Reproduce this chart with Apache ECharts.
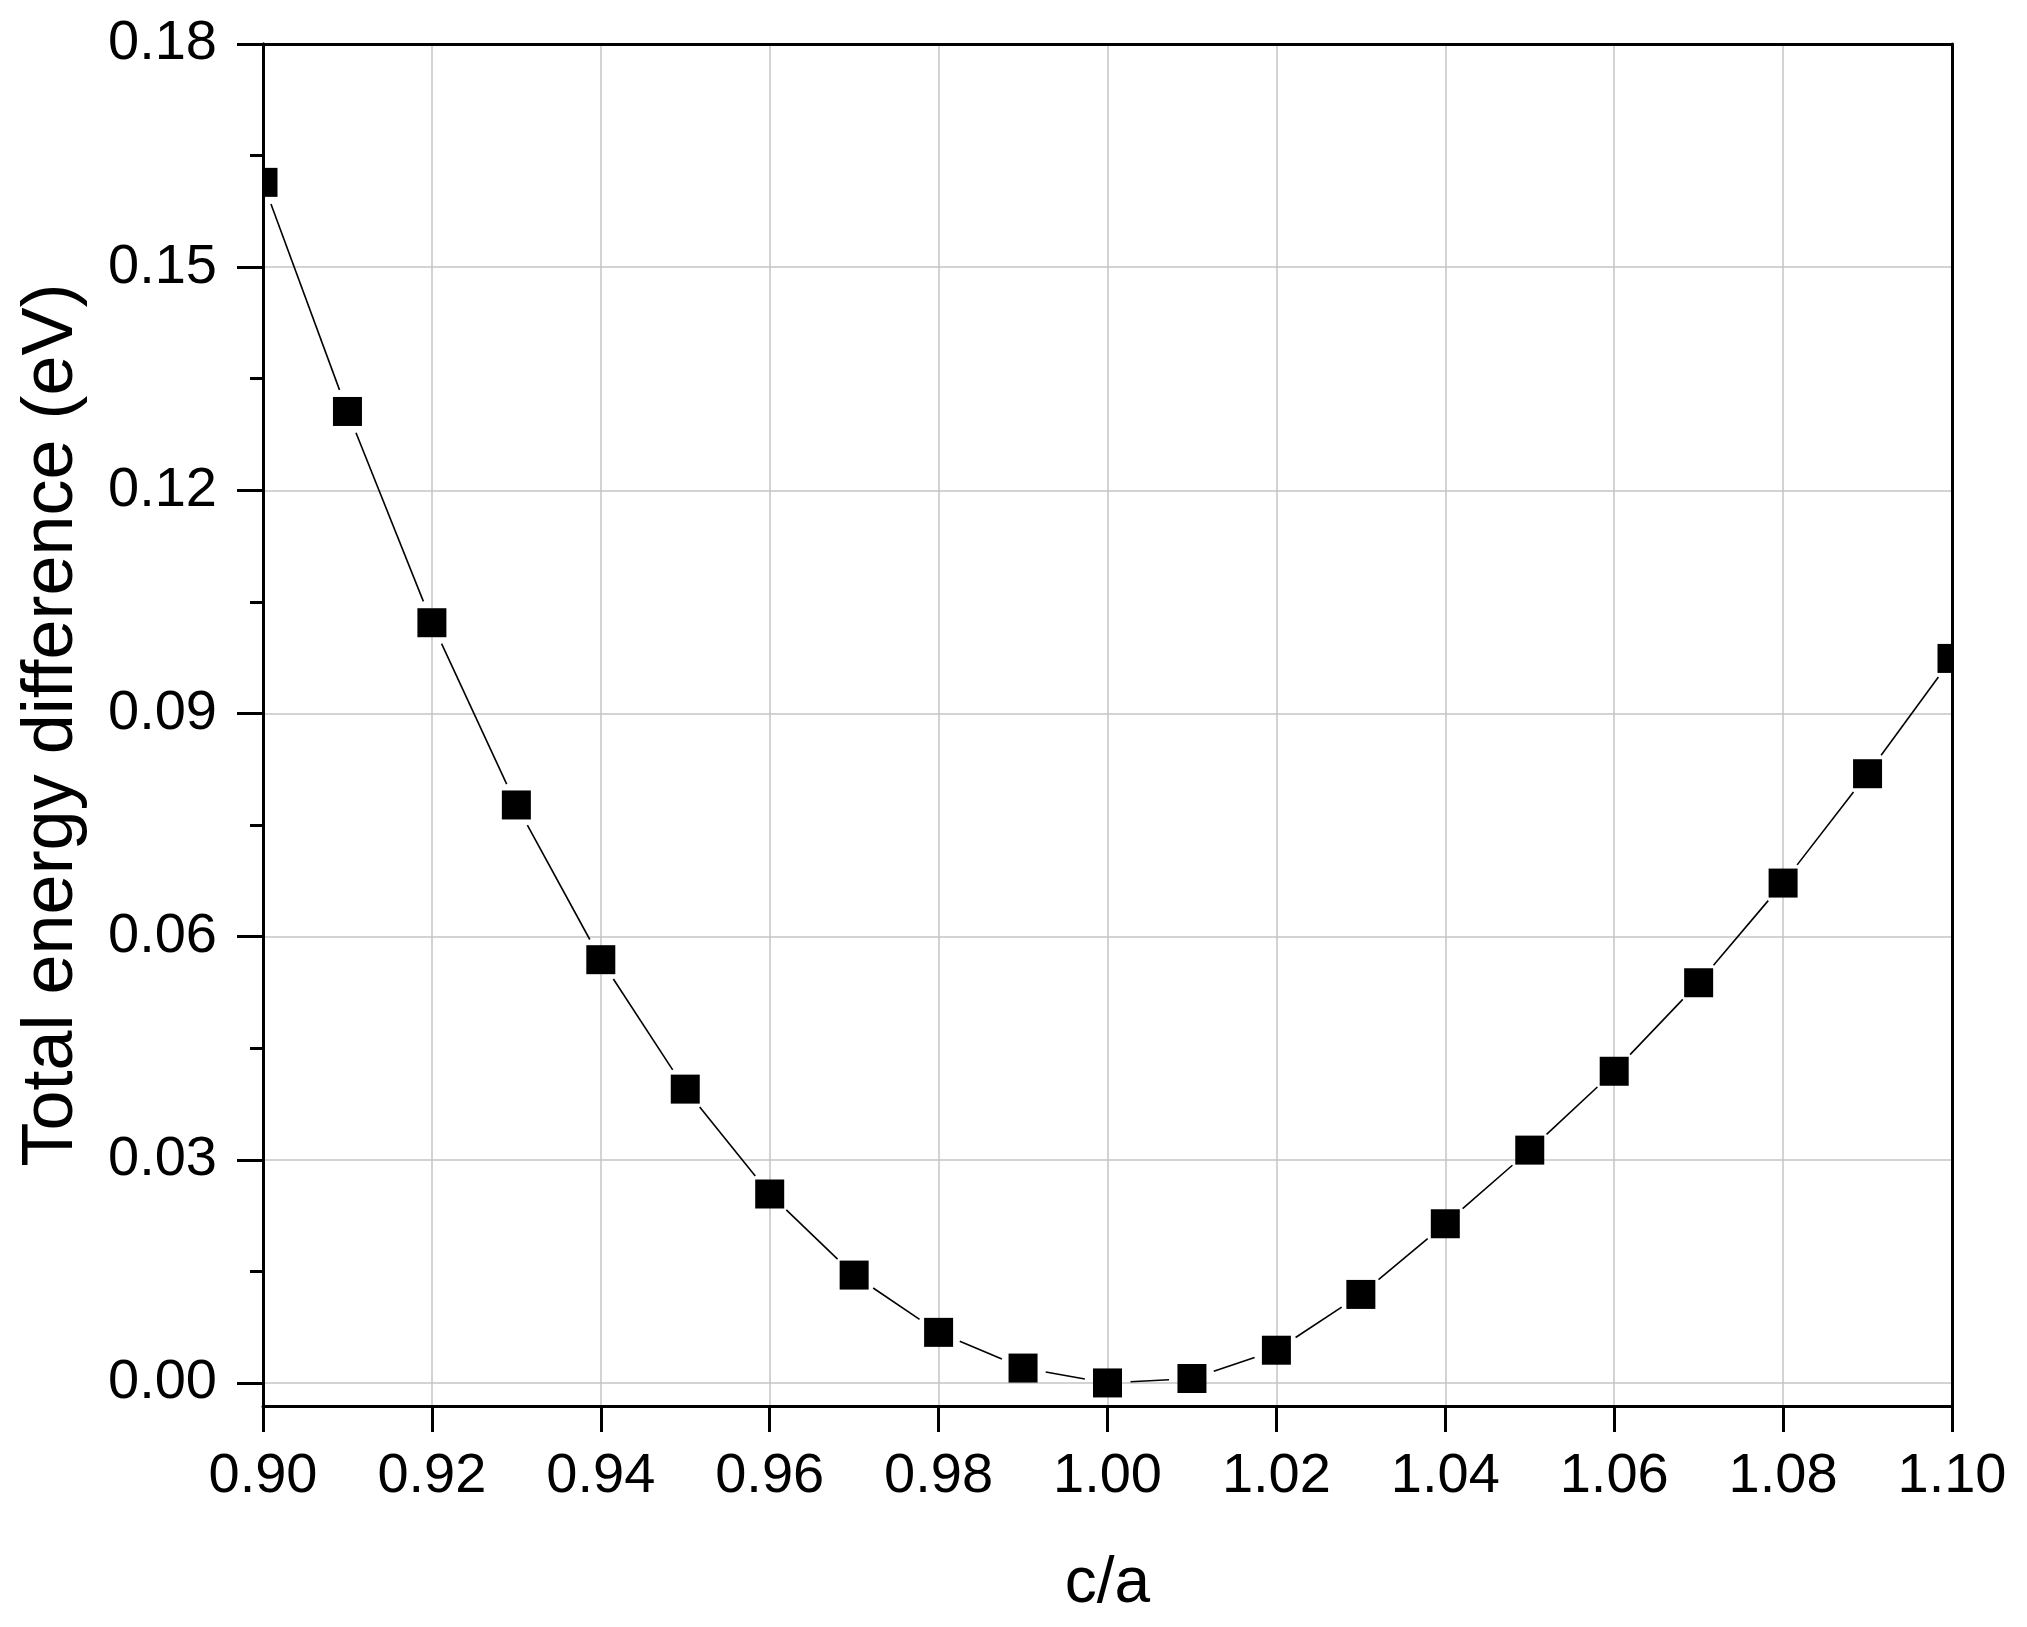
<!DOCTYPE html>
<html>
<head>
<meta charset="utf-8">
<script src="https://cdn.jsdelivr.net/npm/echarts@6/dist/echarts.min.js"></script>
<style>
html,body{margin:0;padding:0;background:#fff;}
#chart{width:2027px;height:1627px;}
</style>
</head>
<body>
<div id="chart"></div>
<script>
const caRatio = [0.90, 0.91, 0.92, 0.93, 0.94, 0.95, 0.96, 0.97, 0.98, 0.99, 1.00, 1.01, 1.02, 1.03, 1.04, 1.05, 1.06, 1.07, 1.08, 1.09, 1.10];
const energyDiff = [0.1614, 0.1306, 0.1022, 0.0777, 0.0569, 0.0395, 0.0254, 0.0145, 0.0068, 0.0020, 0.0000, 0.0006, 0.0044, 0.0119, 0.0214, 0.0313, 0.0419, 0.0538, 0.0672, 0.0819, 0.0974];
const yMajorTicks = [0.00, 0.03, 0.06, 0.09, 0.12, 0.15, 0.18];
const yMinorTicks = [0.015, 0.045, 0.075, 0.105, 0.135, 0.165];
const xTickLabels = ['0.90','0.92','0.94','0.96','0.98','1.00','1.02','1.04','1.06','1.08','1.10'];

const FONT = 'Liberation Sans, Arial, sans-serif';
const chart = echarts.init(document.getElementById('chart'), null, {renderer: 'canvas'});

const markerData = caRatio.map((c, i) => [c, energyDiff[i]]);
const segmentData = caRatio.slice(0, -1).map((c, i) => [c, energyDiff[i], caRatio[i + 1], energyDiff[i + 1]]);

const MARK = 29;
const GAP = 23;
const Y_MIN = -0.0031, Y_MAX = 0.18;

chart.setOption({
  animation: false,
  backgroundColor: '#fff',
  grid: {
    left: 263, right: 75, top: 44, bottom: 221,
    outerBoundsMode: 'none',
    show: false
  },
  xAxis: [{
    type: 'value', min: 0.9, max: 1.1, interval: 0.02,
    name: 'c/a', nameLocation: 'middle', nameGap: 146,
    nameTextStyle: {fontSize: 64, fontFamily: FONT, color: '#000'},
    axisLine: {show: true, onZero: false, lineStyle: {color: '#000', width: 3}},
    axisTick: {show: true, inside: false, length: 26, lineStyle: {color: '#000', width: 3}},
    axisLabel: {fontSize: 56, fontFamily: FONT, color: '#000', margin: 43,
      formatter: (v) => { const s = v.toFixed(2); return xTickLabels.indexOf(s) >= 0 ? s : ''; }},
    splitLine: {show: true, lineStyle: {color: '#c4c4c4', width: 1.5}}
  }, {
    type: 'value', min: 0.9, max: 1.1, position: 'top', z: 10,
    axisLine: {show: true, onZero: false, lineStyle: {color: '#000', width: 3}},
    axisTick: {show: false}, axisLabel: {show: false}, splitLine: {show: false}
  }],
  yAxis: [{
    type: 'value', min: Y_MIN, max: Y_MAX,
    name: 'Total energy difference (eV)', nameLocation: 'middle', nameGap: 175,
    nameTextStyle: {fontSize: 72, fontFamily: FONT, color: '#000'},
    axisLine: {show: true, onZero: false, lineStyle: {color: '#000', width: 3}},
    axisTick: {show: true, inside: false, length: 26, lineStyle: {color: '#000', width: 3}, customValues: yMajorTicks},
    axisLabel: {fontSize: 56, fontFamily: FONT, color: '#000', margin: 46, customValues: yMajorTicks,
      formatter: (v) => v.toFixed(2)},
    splitLine: {show: true, lineStyle: {color: '#c4c4c4', width: 1.5}}
  }, {
    type: 'value', min: Y_MIN, max: Y_MAX, position: 'left', z: 10,
    axisLine: {show: true, onZero: false, lineStyle: {color: '#000', width: 3}},
    axisTick: {show: true, inside: false, length: 13, lineStyle: {color: '#000', width: 3}, customValues: yMinorTicks},
    axisLabel: {show: false, customValues: yMinorTicks},
    splitLine: {show: false}
  }, {
    type: 'value', min: Y_MIN, max: Y_MAX, position: 'right', z: 10,
    axisLine: {show: true, onZero: false, lineStyle: {color: '#000', width: 3}},
    axisTick: {show: false}, axisLabel: {show: false}, splitLine: {show: false}
  }],
  series: [{
    type: 'custom',
    name: 'segments',
    clip: true,
    data: segmentData,
    encode: {x: [0, 2], y: [1, 3]},
    renderItem: function (params, api) {
      const p0 = api.coord([api.value(0), api.value(1)]);
      const p1 = api.coord([api.value(2), api.value(3)]);
      const dx = p1[0] - p0[0], dy = p1[1] - p0[1];
      const len = Math.sqrt(dx * dx + dy * dy);
      if (len <= 2 * GAP) return null;
      const ux = dx / len, uy = dy / len;
      return {
        type: 'line',
        shape: {x1: p0[0] + ux * GAP, y1: p0[1] + uy * GAP, x2: p1[0] - ux * GAP, y2: p1[1] - uy * GAP},
        style: {stroke: '#000', lineWidth: 1.6}
      };
    }
  }, {
    type: 'custom',
    name: 'markers',
    clip: true,
    data: markerData,
    encode: {x: 0, y: 1},
    renderItem: function (params, api) {
      const p = api.coord([api.value(0), api.value(1)]);
      return {
        type: 'rect',
        shape: {x: p[0] - MARK / 2, y: p[1] - MARK / 2, width: MARK, height: MARK},
        style: {fill: '#000'}
      };
    }
  }]
});
</script>
</body>
</html>
